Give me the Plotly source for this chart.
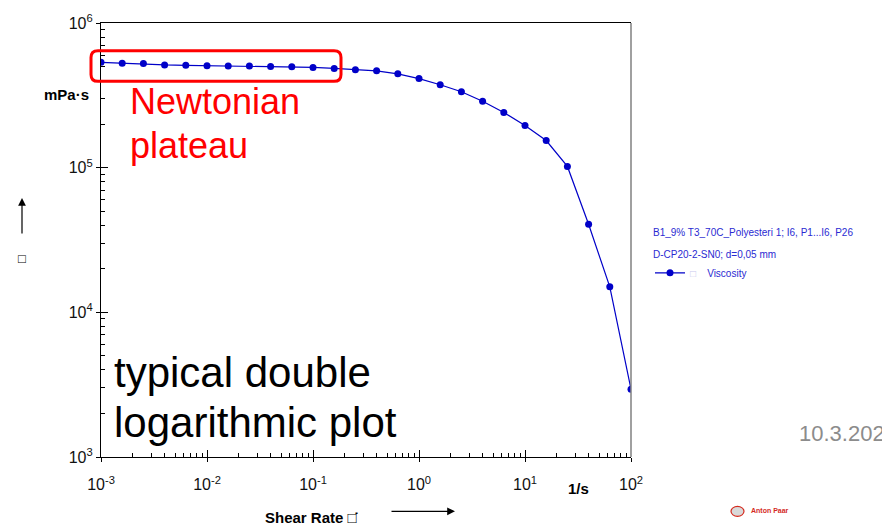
import plotly.graph_objects as go

# Shear rate (1/s), 5 points per decade from 1e-3 to 1e2
shear_rate = [
    0.001, 0.001585, 0.002512, 0.003981, 0.00631,
    0.01, 0.01585, 0.02512, 0.03981, 0.0631,
    0.1, 0.1585, 0.2512, 0.3981, 0.631,
    1.0, 1.585, 2.512, 3.981, 6.31,
    10.0, 15.85, 25.12, 39.81, 63.1, 100.0,
]
# Viscosity (mPa·s)
viscosity = [
    535000, 527000, 525000, 513000, 510000,
    507000, 505000, 504000, 500000, 498000,
    493000, 485000, 475000, 467000, 445000,
    413000, 374000, 335000, 288000, 241000,
    196000, 154000, 102000, 40600, 15000, 2940,
]

x_tick_vals = [1e-3, 1e-2, 1e-1, 1, 10, 100]
x_tick_text = ["10<sup>-3</sup>", "10<sup>-2</sup>", "10<sup>-1</sup>",
               "10<sup>0</sup>", "10<sup>1</sup>", "10<sup>2</sup>"]
y_tick_vals = [1e3, 1e4, 1e5, 1e6]
y_tick_text = ["10<sup>3</sup>", "10<sup>4</sup>", "10<sup>5</sup>", "10<sup>6</sup>"]

FONT = "Liberation Sans, Arial, sans-serif"
BLUE = "#0000c8"
LEG_BLUE = "#2a2ad2"

# plot area in pixels
L, R, T, B = 101, 631, 18, 457
W, H = 882, 527


def px(x):
    return (x - L) / (R - L)


def py(y):
    return (B - y) / (B - T)


fig = go.Figure()

fig.add_trace(go.Scatter(
    x=shear_rate, y=viscosity,
    mode="lines+markers",
    name="<span style='color:#c8c8ee'>□</span>    Viscosity",
    line=dict(color=BLUE, width=1.2),
    marker=dict(color=BLUE, size=7, symbol="circle"),
    showlegend=True,
))

# invisible companion trace that carries the outer half of the decade ticks
fig.add_trace(go.Scatter(
    x=shear_rate, y=viscosity, xaxis="x2", yaxis="y2",
    mode="markers", marker=dict(opacity=0), hoverinfo="skip",
    showlegend=False,
))

axis_common = dict(
    type="log",
    showgrid=False,
    zeroline=False,
    tickmode="array",
    tickfont=dict(family=FONT, size=16, color="#111"),
)

fig.update_layout(
    width=W, height=H,
    margin=dict(l=L, r=W - R, t=T, b=H - B),
    paper_bgcolor="white",
    plot_bgcolor="white",
    font=dict(family=FONT),
    xaxis=dict(
        **axis_common,
        range=[-3, 2],
        tickvals=x_tick_vals, ticktext=x_tick_text,
        ticks="inside", ticklen=7, tickcolor="black",
        showline=True, linecolor="black", linewidth=1.2, mirror=True,
        ticklabelstandoff=13,
        minor=dict(ticks="inside", ticklen=4, tickcolor="black", dtick="D1"),
    ),
    yaxis=dict(
        **axis_common,
        range=[3, 6],
        tickvals=y_tick_vals, ticktext=y_tick_text,
        ticks="inside", ticklen=7, tickcolor="black",
        showline=True, linecolor="black", linewidth=1.2,
        ticklabelstandoff=4,
        minor=dict(ticks="inside", ticklen=4, tickcolor="black", dtick="D1"),
    ),
    xaxis2=dict(
        type="log", range=[-3, 2], overlaying="x", matches="x",
        tickvals=x_tick_vals, ticks="outside", ticklen=4, tickcolor="black",
        showticklabels=False, showgrid=False, zeroline=False, showline=False,
    ),
    yaxis2=dict(
        type="log", range=[3, 6], overlaying="y", matches="y",
        tickvals=y_tick_vals, ticks="outside", ticklen=4, tickcolor="black",
        showticklabels=False, showgrid=False, zeroline=False, showline=False,
    ),
    legend=dict(
        x=px(650), y=py(256), xanchor="left", yanchor="top",
        font=dict(family=FONT, size=10, color=LEG_BLUE),
        bgcolor="rgba(0,0,0,0)", itemwidth=30,
    ),
)

# right frame line in grey
fig.add_shape(type="line", xref="paper", yref="paper",
              x0=1, x1=1, y0=0, y1=1,
              line=dict(color="#808080", width=1.5))

# rounded box around the Newtonian plateau
x0, x1 = px(91), px(341)
y0, y1 = py(77), py(46)
rx, ry = 7 / (R - L), 7 / (B - T)
path = (
    f"M {x0 + rx},{y1} L {x1 - rx},{y1} Q {x1},{y1} {x1},{y1 - ry} "
    f"L {x1},{y0 + ry} Q {x1},{y0} {x1 - rx},{y0} "
    f"L {x0 + rx},{y0} Q {x0},{y0} {x0},{y0 + ry} "
    f"L {x0},{y1 - ry} Q {x0},{y1} {x0 + rx},{y1} Z"
)
fig.add_shape(type="path", xref="paper", yref="paper", path=path,
              line=dict(color="#ff0000", width=3))

# small logo mark next to the company name
fig.add_shape(type="circle", xref="paper", yref="paper",
              x0=px(731), x1=px(744), y0=py(517), y1=py(507),
              fillcolor="rgba(180,180,180,0.5)",
              line=dict(color="#d42a1e", width=1.2))


def note(text, x, y, size, color="black", bold=False, xanchor="left"):
    if bold:
        text = f"<b>{text}</b>"
    fig.add_annotation(
        text=text, xref="paper", yref="paper", x=px(x), y=py(y),
        xanchor=xanchor, yanchor="middle", showarrow=False,
        font=dict(family=FONT, size=size, color=color),
    )


note("mPa·s", 66, 90, 15, bold=True, xanchor="center")
note("1/s", 578, 489, 15, bold=True, xanchor="center")
note("Shear Rate □\u0307", 263, 518, 15, bold=True)
note("□", 22, 256, 13, xanchor="center")

note("Newtonian", 128, 97, 36, color="#ff0000")
note("plateau", 128, 142, 36, color="#ff0000")
note("typical double", 112, 372, 42)
note("logarithmic plot", 112, 422, 42)

note("B1_9% T3_70C_Polyesteri 1; I6, P1...I6, P26", 651, 230, 10, color=LEG_BLUE)
note("D-CP20-2-SN0; d=0,05 mm", 651, 252, 10, color=LEG_BLUE)

note("10.3.2024", 797, 433, 22, color="#8c8c8c")
note("Anton Paar", 749, 511, 7, color="#d42a1e", bold=True)

# direction arrows for the axes
fig.add_annotation(xref="paper", yref="paper", x=px(455), y=py(512),
                   ax=-65, ay=0, text="", showarrow=True,
                   arrowhead=2, arrowsize=1.3, arrowwidth=1.2, arrowcolor="black")
fig.add_annotation(xref="paper", yref="paper", x=px(22), y=py(195),
                   ax=0, ay=37, text="", showarrow=True,
                   arrowhead=2, arrowsize=1.3, arrowwidth=1.2, arrowcolor="black")

fig.write_html("out.html")
